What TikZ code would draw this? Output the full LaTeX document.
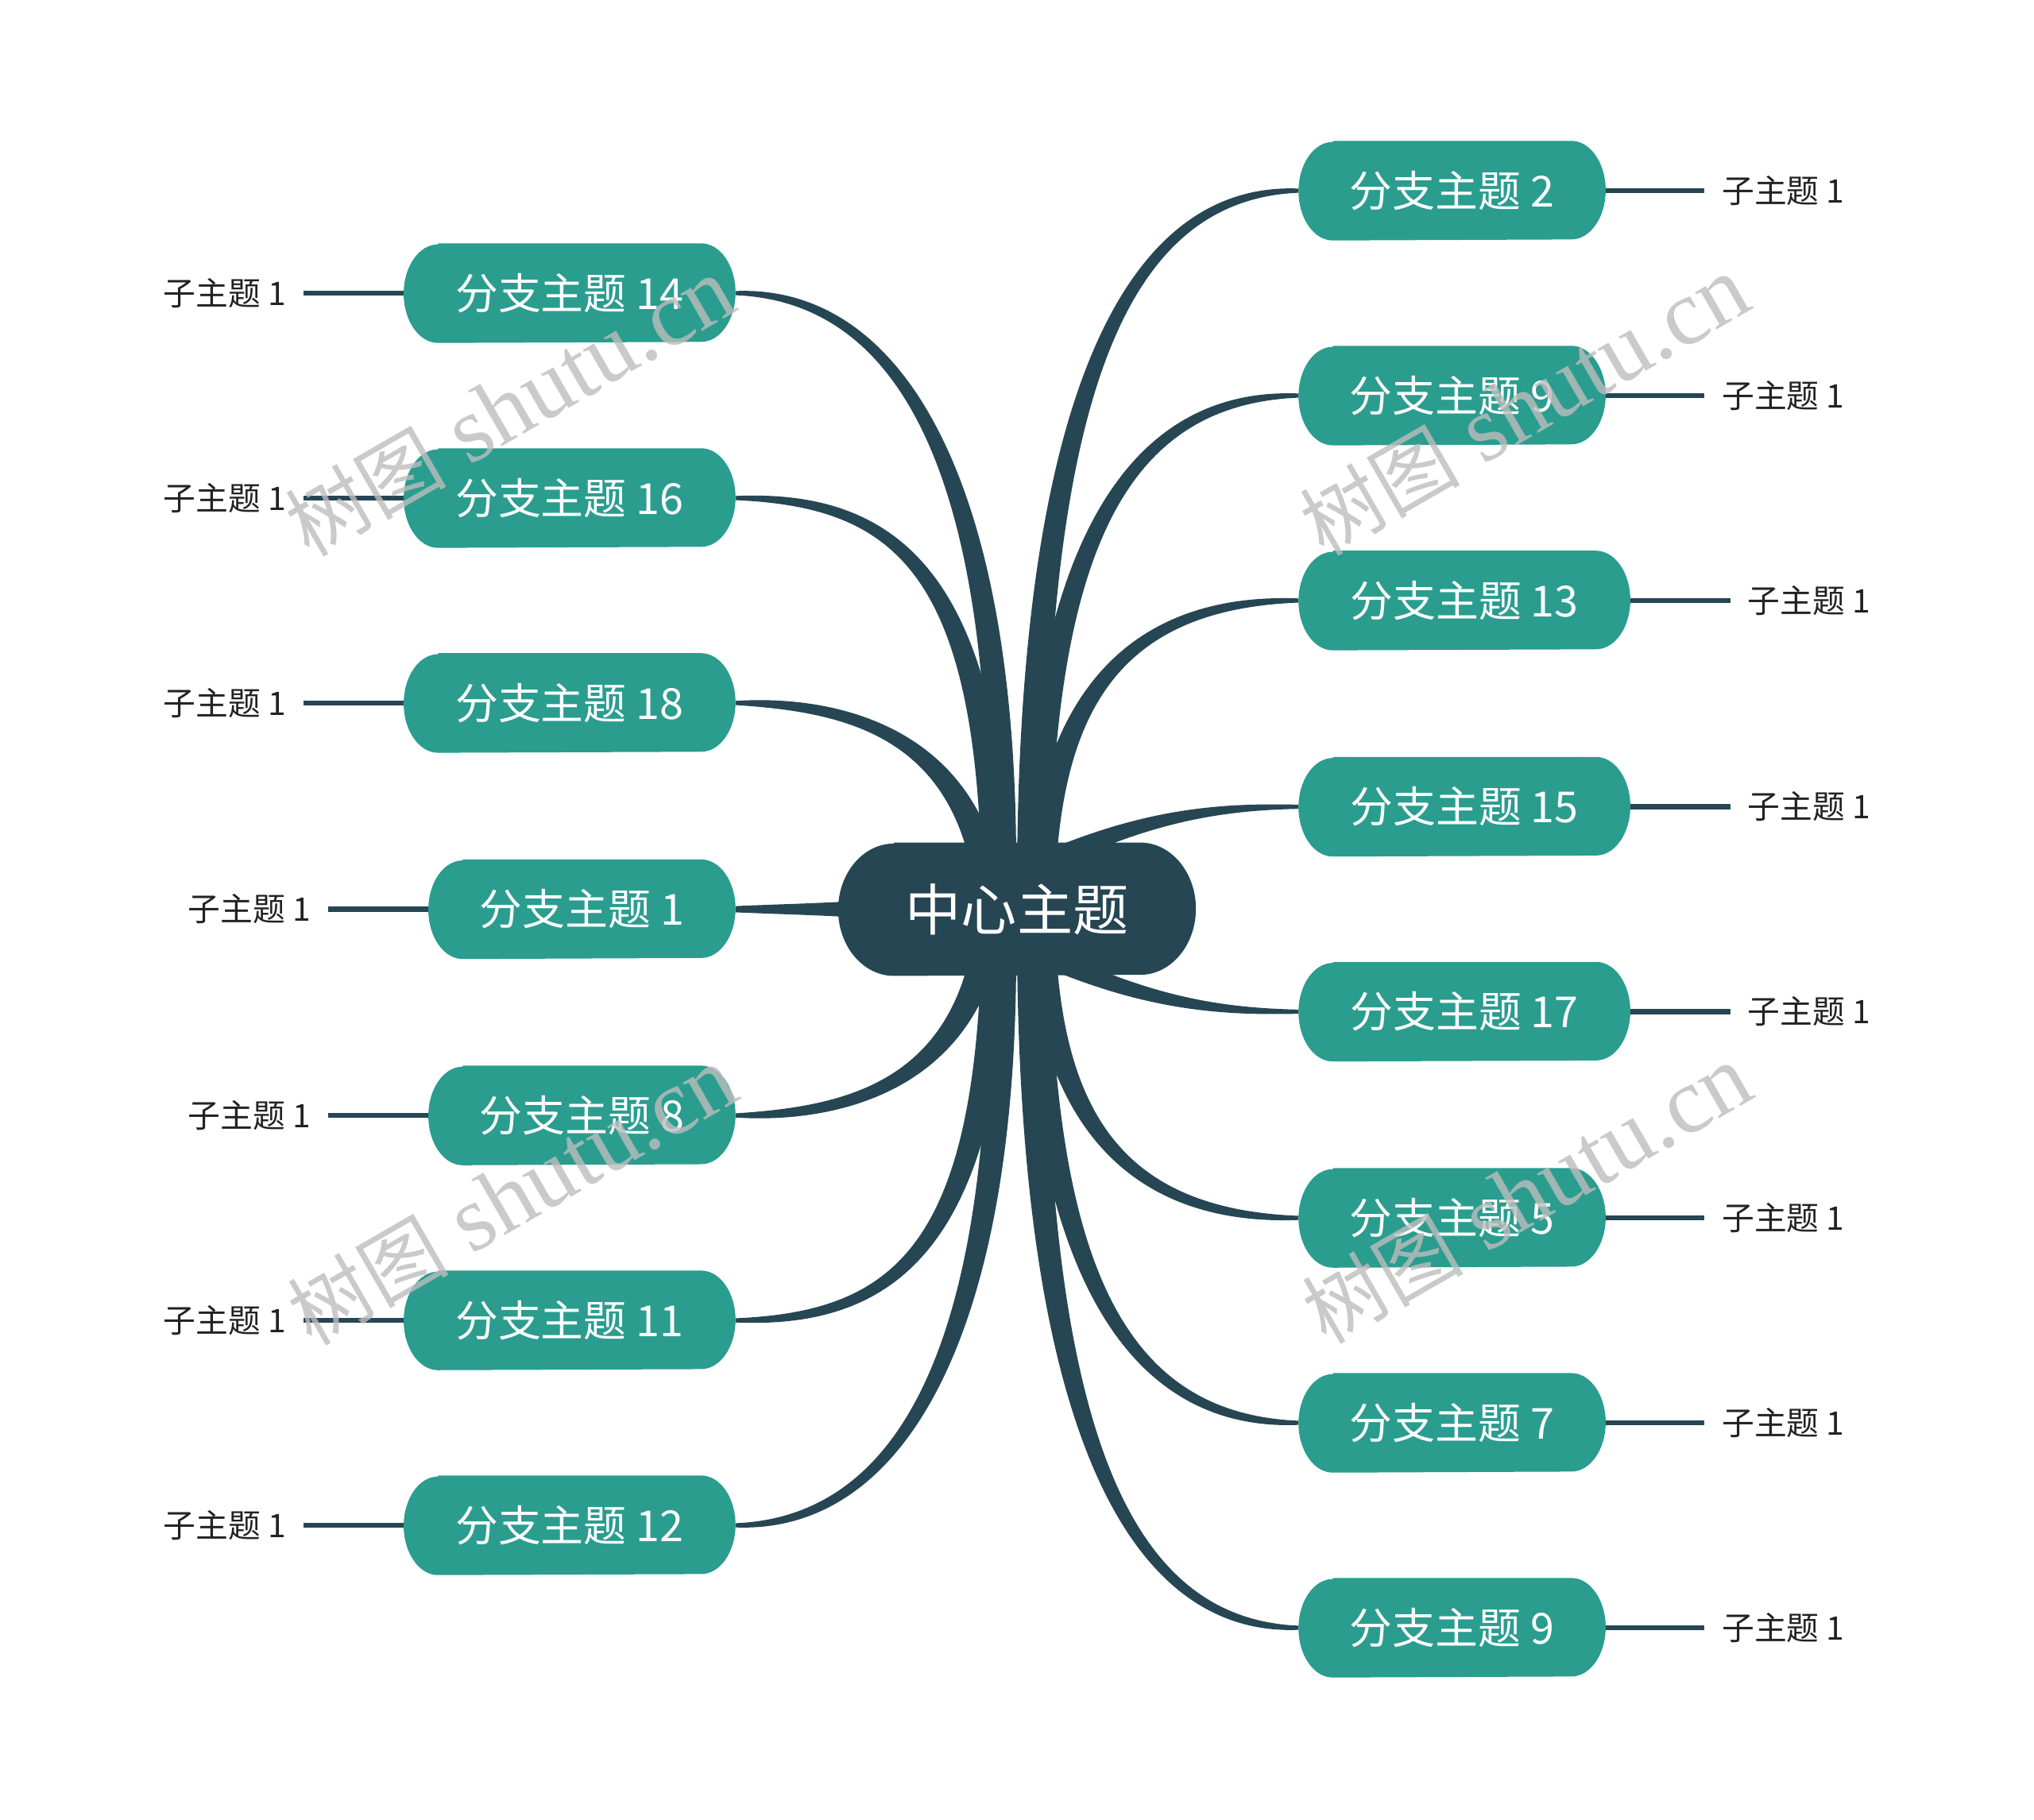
\documentclass[tikz,border=0pt]{standalone}
\usepackage{fontspec}
\setmainfont{Noto Sans CJK SC}
\newfontfamily\wmlatin{Liberation Serif}
\usetikzlibrary{calc}
\definecolor{teal0}{HTML}{2A9D8F}
\definecolor{dark0}{HTML}{264653}
\definecolor{wmgray}{HTML}{BDBDBD}
\definecolor{subtext}{HTML}{222222}
\pgfdeclarelayer{bg}
\pgfdeclarelayer{fg}
\pgfsetlayers{bg,main,fg}
% tapered connector: P0, P1, P2, P3, half widths at P0, P1, P2, P3
\newcommand{\branchlink}[8]{%
  \fill[dark0] ($#1!#5!90:#2$) .. controls ($#2!#6!-90:#1$) and ($#3!#7!90:#4$) .. ($#4!#8!-90:#3$)
    -- ($#4!#8!90:#3$) .. controls ($#3!#7!-90:#4$) and ($#2!#6!90:#1$) .. ($#1!#5!-90:#2$) -- cycle;}
% capsule background of a node: name, colour, x radius, y radius
\newcommand{\capsulebg}[4]{%
  \fill[#2] ([xshift=#3]#1.north west) -- ([xshift=-#3]#1.north east)
    arc[start angle=90,end angle=-90,x radius=#3,y radius=#4]
    -- ([xshift=#3]#1.south west)
    arc[start angle=270,end angle=90,x radius=#3,y radius=#4] -- cycle;}
\begin{document}
\begin{tikzpicture}[x=0.5pt,y=-0.5pt,
  branch/.style={minimum height=38pt,inner sep=0pt,text=white,font=\fontsize{16.5pt}{16.5pt}\selectfont},
  wideb/.style={minimum width=127.5pt},
  narrowb/.style={minimum width=118pt},
  centertopic/.style={minimum width=137.5pt,minimum height=51pt,inner sep=0pt,text=white,font=\fontsize{21.5pt}{21.5pt}\selectfont},
  subtopic/.style={inner sep=0pt,text=subtext,font=\fontsize{12.5pt}{12.5pt}\selectfont},
  subline/.style={draw=dark0,line width=1.9pt,shorten >=6.5pt},
  watermark/.style={rotate=30,inner sep=0pt,text=wmgray,text opacity=0.8,font=\fontsize{36pt}{36pt}\wmlatin}
]
\useasboundingbox (0,0) rectangle (1568,1403);

% ---------- nodes ----------
\node[centertopic] (c) at (784,701) {中心主题};

\node[branch,wideb,anchor=east]   (b14) at (567,226)  {分支主题 14};
\node[branch,wideb,anchor=east]   (b16) at (567,384)  {分支主题 16};
\node[branch,wideb,anchor=east]   (b18) at (567,542)  {分支主题 18};
\node[branch,narrowb,anchor=east] (b1)  at (567,701)  {分支主题 1};
\node[branch,narrowb,anchor=east] (b8)  at (567,860)  {分支主题 8};
\node[branch,wideb,anchor=east]   (b11) at (567,1018) {分支主题 11};
\node[branch,wideb,anchor=east]   (b12) at (567,1176) {分支主题 12};

\node[branch,narrowb,anchor=west] (r2)  at (1001,147)  {分支主题 2};
\node[branch,narrowb,anchor=west] (r9)  at (1001,305)  {分支主题 9};
\node[branch,wideb,anchor=west]   (r13) at (1001,463)  {分支主题 13};
\node[branch,wideb,anchor=west]   (r15) at (1001,622)  {分支主题 15};
\node[branch,wideb,anchor=west]   (r17) at (1001,780)  {分支主题 17};
\node[branch,narrowb,anchor=west] (r5)  at (1001,939)  {分支主题 5};
\node[branch,narrowb,anchor=west] (r7)  at (1001,1097) {分支主题 7};
\node[branch,narrowb,anchor=west] (r9b) at (1001,1255) {分支主题 9};

\node[subtopic,anchor=east] (s14) at (221,226)  {子主题 1};
\node[subtopic,anchor=east] (s16) at (221,384)  {子主题 1};
\node[subtopic,anchor=east] (s18) at (221,542)  {子主题 1};
\node[subtopic,anchor=east] (s1)  at (240,701)  {子主题 1};
\node[subtopic,anchor=east] (s8)  at (240,860)  {子主题 1};
\node[subtopic,anchor=east] (s11) at (221,1018) {子主题 1};
\node[subtopic,anchor=east] (s12) at (221,1176) {子主题 1};

\node[subtopic,anchor=west] (t2)  at (1327,147)  {子主题 1};
\node[subtopic,anchor=west] (t9)  at (1327,305)  {子主题 1};
\node[subtopic,anchor=west] (t13) at (1347,463)  {子主题 1};
\node[subtopic,anchor=west] (t15) at (1347,622)  {子主题 1};
\node[subtopic,anchor=west] (t17) at (1347,780)  {子主题 1};
\node[subtopic,anchor=west] (t5)  at (1327,939)  {子主题 1};
\node[subtopic,anchor=west] (t7)  at (1327,1097) {子主题 1};
\node[subtopic,anchor=west] (t9b) at (1327,1255) {子主题 1};

% connector ends inside the central topic
\coordinate (e14) at (772,700);  \coordinate (e16) at (768,700);  \coordinate (e18) at (764,700);
\coordinate (e12) at (772,702);  \coordinate (e11) at (768,702);  \coordinate (e8)  at (764,702);
\coordinate (e2)  at (795,700);  \coordinate (e9)  at (798,700);  \coordinate (e13) at (802,700);
\coordinate (e9b) at (795,702);  \coordinate (e7)  at (798,702);  \coordinate (e5)  at (802,702);
\coordinate (e15) at (790,672);  \coordinate (e17) at (790,730);
\coordinate (e1)  at (655,701);

\begin{pgfonlayer}{bg}
  % main connectors (tapered)
  \branchlink{(b14.east)}{(700,226)}{(780,380)}{(e14)}{0.8pt}{3.5pt}{5pt}{5.5pt}
  \branchlink{(b16.east)}{(690,384)}{(766,440)}{(e16)}{0.8pt}{3.5pt}{5pt}{5.5pt}
  \branchlink{(b18.east)}{(650,542)}{(752,565)}{(e18)}{0.8pt}{3.5pt}{5pt}{5.5pt}
  \branchlink{(b12.east)}{(700,1176)}{(780,1022)}{(e12)}{0.8pt}{3.5pt}{5pt}{5.5pt}
  \branchlink{(b11.east)}{(690,1018)}{(766,962)}{(e11)}{0.8pt}{3.5pt}{5pt}{5.5pt}
  \branchlink{(b8.east)}{(650,860)}{(752,837)}{(e8)}{0.8pt}{3.5pt}{5pt}{5.5pt}
  \branchlink{(b1.east)}{(595,701)}{(625,701)}{(e1)}{1.2pt}{1.8pt}{2.2pt}{3pt}

  \branchlink{(r2.west)}{(870,147)}{(792,300)}{(e2)}{0.8pt}{3.5pt}{5pt}{5.5pt}
  \branchlink{(r9.west)}{(870,305)}{(800,420)}{(e9)}{0.8pt}{3.5pt}{5pt}{5.5pt}
  \branchlink{(r13.west)}{(860,463)}{(805,550)}{(e13)}{0.8pt}{3.5pt}{5pt}{5.5pt}
  \branchlink{(r15.west)}{(940,622)}{(880,628)}{(e15)}{0.8pt}{1.5pt}{3pt}{4pt}
  \branchlink{(r17.west)}{(940,780)}{(880,774)}{(e17)}{0.8pt}{1.5pt}{3pt}{4pt}
  \branchlink{(r5.west)}{(860,939)}{(805,852)}{(e5)}{0.8pt}{3.5pt}{5pt}{5.5pt}
  \branchlink{(r7.west)}{(870,1097)}{(800,982)}{(e7)}{0.8pt}{3.5pt}{5pt}{5.5pt}
  \branchlink{(r9b.west)}{(870,1255)}{(792,1102)}{(e9b)}{0.8pt}{3.5pt}{5pt}{5.5pt}

  % sub-topic connectors
  \foreach \b/\s in {b14/s14,b16/s16,b18/s18,b1/s1,b8/s8,b11/s11,b12/s12}{
    \draw[subline] (\b.west) -- (\s.east);}
  \foreach \b/\s in {r2/t2,r9/t9,r13/t13,r15/t15,r17/t17,r5/t5,r7/t7,r9b/t9b}{
    \draw[subline] (\b.east) -- (\s.west);}

  % node backgrounds
  \foreach \n in {b14,b16,b18,b1,b8,b11,b12,r2,r9,r13,r15,r17,r5,r7,r9b}{
    \capsulebg{\n}{teal0}{13.25pt}{19pt}}
  \capsulebg{c}{dark0}{21.5pt}{25.5pt}
\end{pgfonlayer}

\begin{pgfonlayer}{fg}
  \node[watermark] (w1) at (393,314)  {{\fontsize{31pt}{31pt}\selectfont\normalfont 树图} shutu.cn};
  \node[watermark] (w2) at (1175,313) {{\fontsize{31pt}{31pt}\selectfont\normalfont 树图} shutu.cn};
  \node[watermark] (w3) at (395,922)  {{\fontsize{31pt}{31pt}\selectfont\normalfont 树图} shutu.cn};
  \node[watermark] (w4) at (1177,921) {{\fontsize{31pt}{31pt}\selectfont\normalfont 树图} shutu.cn};
\end{pgfonlayer}
\end{tikzpicture}
\end{document}
